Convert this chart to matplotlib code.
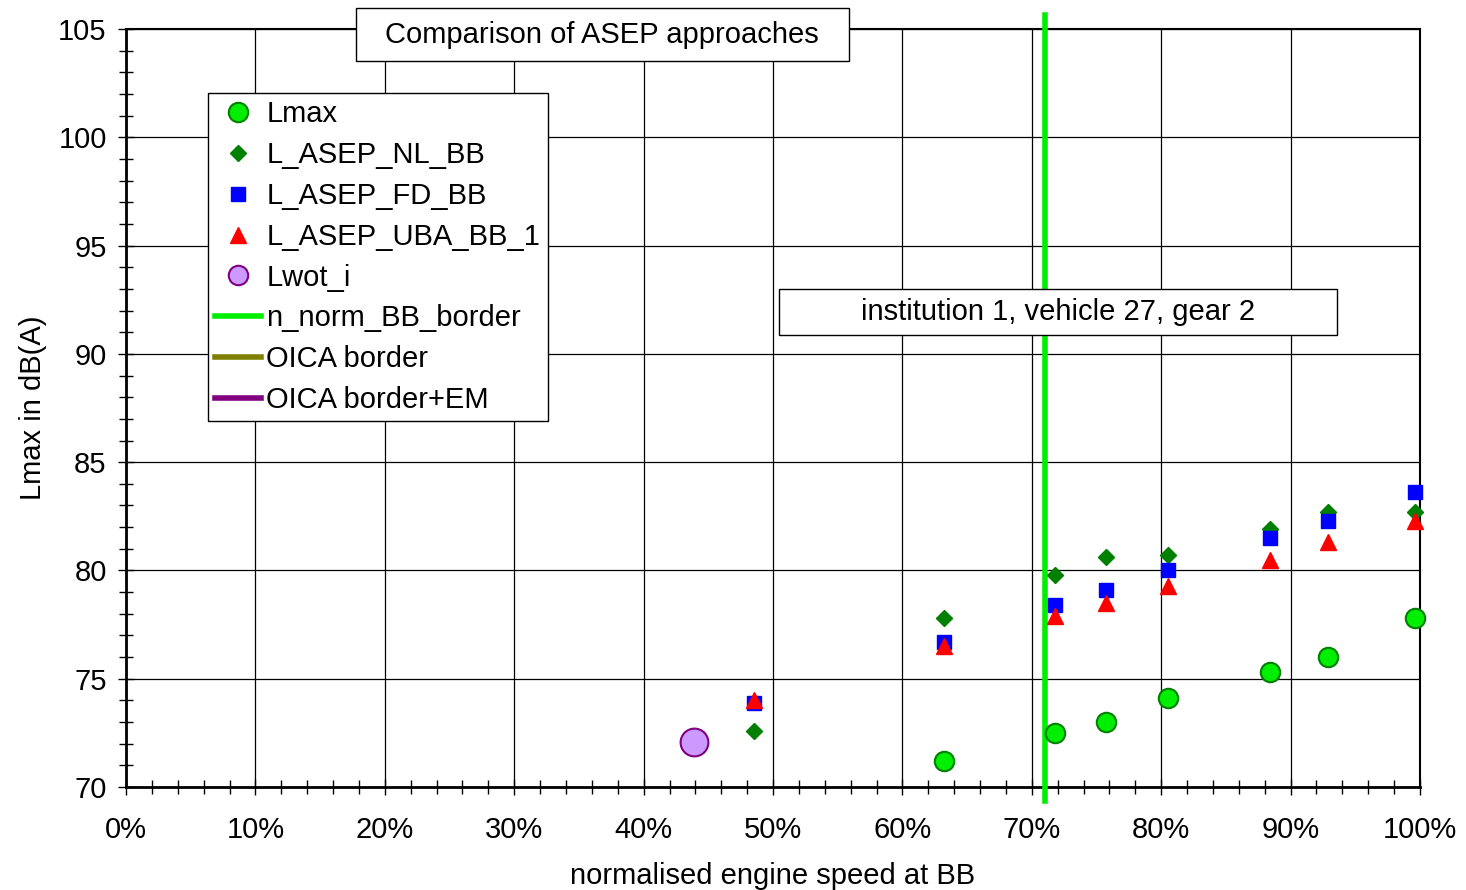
"""
Comparison of ASEP approaches: Lmax vs normalised engine speed at BB.
"""

import matplotlib.pyplot as plt
from matplotlib.lines import Line2D
from matplotlib.patches import Rectangle
from matplotlib.ticker import MultipleLocator, PercentFormatter

plt.rcParams["font.family"] = ["Liberation Sans", "DejaVu Sans"]

# ---------------------------------------------------------------------------
# Data
# ---------------------------------------------------------------------------

n_norm = [0.485, 0.632, 0.718, 0.757, 0.805, 0.884, 0.929, 0.996]

lmax_x = [0.632, 0.718, 0.757, 0.805, 0.884, 0.929, 0.996]
lmax = [71.2, 72.5, 73.0, 74.1, 75.3, 76.0, 77.8]

nl_bb = [72.6, 77.8, 79.8, 80.6, 80.7, 81.9, 82.7, 82.7]
fd_bb = [73.9, 76.7, 78.4, 79.1, 80.0, 81.5, 82.3, 83.6]
uba_bb_1 = [74.0, 76.5, 77.9, 78.5, 79.3, 80.5, 81.3, 82.3]

lwot_x = [0.439]
lwot_i = [72.1]

n_norm_bb_border = 0.710

FS = 21

# ---------------------------------------------------------------------------
# Plot
# ---------------------------------------------------------------------------

fig = plt.figure(figsize=(14.66, 8.9), dpi=100)
ax = fig.add_axes([0.0860, 0.1157, 0.8826, 0.8517])

ax.set_xlim(0, 1)
ax.set_ylim(70, 105)

ax.plot(lmax_x, lmax, "o", ms=14, mfc="#00ee00", mec="#008000", mew=1.5,
        zorder=4, clip_on=False)
ax.plot(n_norm, nl_bb, "D", ms=8, color="#008000", mec="#008000", zorder=4,
        clip_on=False)
ax.plot(n_norm, fd_bb, "s", ms=10.5, color="#0000ff", zorder=5, clip_on=False)
ax.plot(n_norm, uba_bb_1, "^", ms=11, color="#ff0000", zorder=6,
        clip_on=False)
ax.plot(lwot_x, lwot_i, "o", ms=20, mfc="#cc99ff", mec="#800080", mew=1.5,
        zorder=4)

ax.axvline(n_norm_bb_border, ymin=-0.018, ymax=1.018, color="#00ee00",
           lw=4, zorder=3, clip_on=False)

# ticks and grid
ax.xaxis.set_major_locator(MultipleLocator(0.1))
ax.xaxis.set_minor_locator(MultipleLocator(0.02))
ax.yaxis.set_major_locator(MultipleLocator(5))
ax.yaxis.set_minor_locator(MultipleLocator(1))
ax.xaxis.set_major_formatter(PercentFormatter(1.0, decimals=0))
ax.tick_params(which="both", direction="inout", width=1, colors="black",
               labelsize=FS)
ax.tick_params(which="major", length=12)
ax.tick_params(which="minor", length=10)
ax.tick_params(axis="x", pad=15)
ax.tick_params(axis="y", pad=8)
ax.grid(True, which="major", color="black", lw=0.9)
ax.set_axisbelow(True)

for side in ["left", "bottom"]:
    ax.spines[side].set_linewidth(2)
for side in ["right", "top"]:
    ax.spines[side].set_linewidth(1.5)

ax.set_xlabel("normalised engine speed at BB", fontsize=FS, labelpad=13)
ax.set_ylabel("Lmax in dB(A)", fontsize=FS, labelpad=8)

# legend
handles = [
    Line2D([], [], ls="", marker="o", ms=14, mfc="#00ee00", mec="#008000",
           mew=1.5),
    Line2D([], [], ls="", marker="D", ms=8, color="#008000"),
    Line2D([], [], ls="", marker="s", ms=10, color="#0000ff"),
    Line2D([], [], ls="", marker="^", ms=11, color="#ff0000"),
    Line2D([], [], ls="", marker="o", ms=14, mfc="#cc99ff", mec="#800080",
           mew=1.5),
    Line2D([], [], color="#00ee00", lw=4),
    Line2D([], [], color="#808000", lw=4),
    Line2D([], [], color="#800080", lw=4),
]
labels = ["Lmax", "L_ASEP_NL_BB", "L_ASEP_FD_BB", "L_ASEP_UBA_BB_1",
          "Lwot_i", "n_norm_BB_border", "OICA border", "OICA border+EM"]
leg = ax.legend(handles, labels, loc="upper left",
                bbox_to_anchor=(0.0634, 0.9156), fontsize=FS, frameon=True,
                fancybox=False, edgecolor="black", framealpha=1,
                handlelength=1.55, handletextpad=0.2, labelspacing=0.44,
                borderpad=0.25, borderaxespad=0)
leg.get_frame().set_linewidth(1)

# text boxes
ax.add_patch(Rectangle((0.1777, 0.9578), 0.381, 0.0699,
                       transform=ax.transAxes, fc="white", ec="black", lw=1,
                       clip_on=False, zorder=9))
ax.text(0.368, 0.9927, "Comparison of ASEP approaches",
        transform=ax.transAxes, ha="center", va="center", fontsize=FS,
        zorder=10)
ax.add_patch(Rectangle((0.5046, 0.5963), 0.4313, 0.0607,
                       transform=ax.transAxes, fc="white", ec="black", lw=1,
                       zorder=9))
ax.text(0.720, 0.6266, "institution 1, vehicle 27, gear 2",
        transform=ax.transAxes, ha="center", va="center", fontsize=FS,
        zorder=10)

plt.savefig("out.png", dpi=100)
